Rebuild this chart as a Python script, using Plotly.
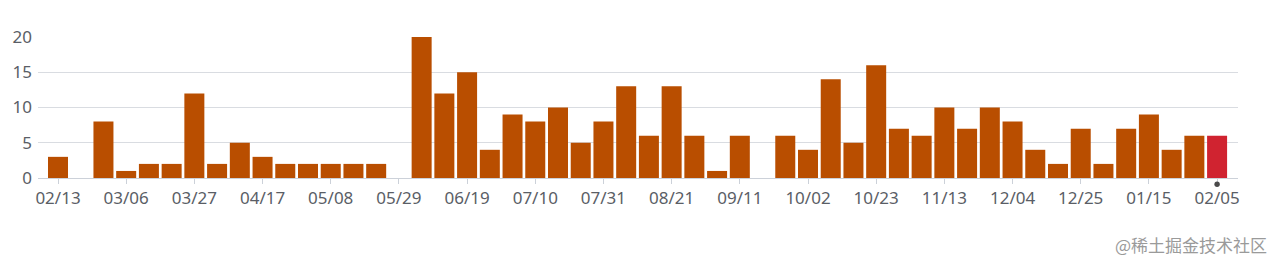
import plotly.graph_objects as go

weeks = ["02/13", "02/20", "02/27", "03/06", "03/13", "03/20", "03/27", "04/03", "04/10", "04/17",
         "04/24", "05/01", "05/08", "05/15", "05/22", "05/29", "06/05", "06/12", "06/19", "06/26",
         "07/03", "07/10", "07/17", "07/24", "07/31", "08/07", "08/14", "08/21", "08/28", "09/04",
         "09/11", "09/18", "09/25", "10/02", "10/09", "10/16", "10/23", "10/30", "11/06", "11/13",
         "11/20", "11/27", "12/04", "12/11", "12/18", "12/25", "01/01", "01/08", "01/15", "01/22",
         "01/29", "02/05"]
counts = [3, 0, 8, 1, 2, 2, 12, 2, 5, 3,
          2, 2, 2, 2, 2, 0, 20, 12, 15, 4,
          9, 8, 10, 5, 8, 13, 6, 13, 6, 1,
          6, 0, 6, 4, 14, 5, 16, 7, 6, 10,
          7, 10, 8, 4, 2, 7, 2, 7, 9, 4,
          6, 6]
tick_labels = weeks[::3]
yticks = [0, 5, 10, 15, 20]

base_color = "#b94e00"
current_color = "#d02330"
colors = [base_color] * (len(counts) - 1) + [current_color]
current_idx = len(weeks) - 1

fig = go.Figure()
fig.add_trace(go.Bar(
    x=list(range(len(weeks))), y=counts, marker=dict(color=colors, line=dict(width=0)),
    hoverinfo="skip", showlegend=False,
))

fig.update_layout(
    width=1279, height=268,
    margin=dict(l=38, r=41, t=37, b=90),
    plot_bgcolor="white", paper_bgcolor="white",
    bargap=0.12,
    font=dict(family="Noto Sans, Open Sans, sans-serif", size=17, color="#5a5e66"),
    xaxis=dict(
        range=[-0.88, len(weeks) - 1 + 0.92],
        tickmode="array",
        tickvals=list(range(0, len(weeks), 3)),
        ticktext=tick_labels,
        showgrid=False, zeroline=False,
        showline=True, linecolor="#ccd1d9", linewidth=1,
        ticks="outside", ticklen=5, tickcolor="#ccd1d9",
        tickfont=dict(size=17, color="#5a5e66"),
    ),
    yaxis=dict(
        range=[0, 20],
        tickvals=yticks,
        showgrid=True, gridcolor="#d9dce1", gridwidth=1,
        zeroline=False, showline=False,
        ticks="", ticklabelstandoff=5,
        tickfont=dict(size=17, color="#5a5e66"),
    ),
    shapes=[dict(
        type="circle", xref="x", yref="paper",
        xsizemode="pixel", ysizemode="pixel",
        xanchor=current_idx, yanchor=0,
        x0=-2.7, x1=2.7, y0=-9, y1=-3.6,
        fillcolor="#4a4a4a", line=dict(width=0), layer="above",
    )],
    annotations=[
        dict(
            text="@稀土掘金技术社区", xref="paper", yref="paper",
            x=1.026, y=-0.47, xanchor="right", yanchor="middle", showarrow=False,
            font=dict(family="Noto Sans CJK SC", size=17, color="#9a9a9a"),
        ),
    ],
)

fig.write_html("out.html")
